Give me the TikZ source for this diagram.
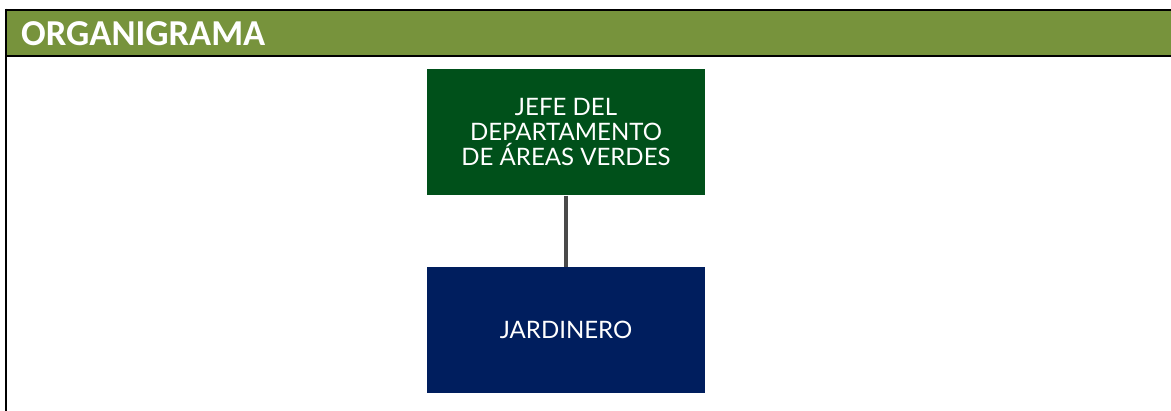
\documentclass[tikz,border=0pt]{standalone}
\usepackage{fontspec}
\setmainfont{Lato}
\newfontfamily\headfont{Carlito}
\definecolor{headgreen}{RGB}{119,147,60}
\definecolor{boxgreen}{RGB}{0,80,26}
\definecolor{boxblue}{RGB}{0,30,94}
\definecolor{linegray}{RGB}{74,74,74}
\begin{document}
\begin{tikzpicture}[x=1pt,y=1pt,
  orgbox/.style={rectangle, minimum width=278pt, minimum height=126pt, inner sep=0pt,
    text=white, align=center, font=\fontsize{24}{25}\selectfont},
  headtext/.style={anchor=west, text=white, inner sep=0pt, font=\headfont\bfseries\fontsize{36.5}{36.5}\selectfont}]
\useasboundingbox (0,0) rectangle (1171,-411);
% header bar
\fill[headgreen] (6,-10) rectangle (1171,-56);
\draw[line width=2.5pt] (6,-10) -- (1171,-10);
\draw[line width=2.5pt] (6,-56) -- (1171,-56);
\draw[line width=2.5pt] (6,-8.75) -- (6,-411);
\node[headtext] (title) at (21,-34) {ORGANIGRAMA};
% boxes
\node[orgbox, fill=boxgreen] (jefe) at (566,-132.5) {JEFE DEL\\DEPARTAMENTO\\DE ÁREAS VERDES};
\node[orgbox, fill=boxblue] (jard) at (566,-330) {JARDINERO};
\draw[linegray, line width=4pt] (jefe.south) -- (jard.north);
\end{tikzpicture}
\end{document}
